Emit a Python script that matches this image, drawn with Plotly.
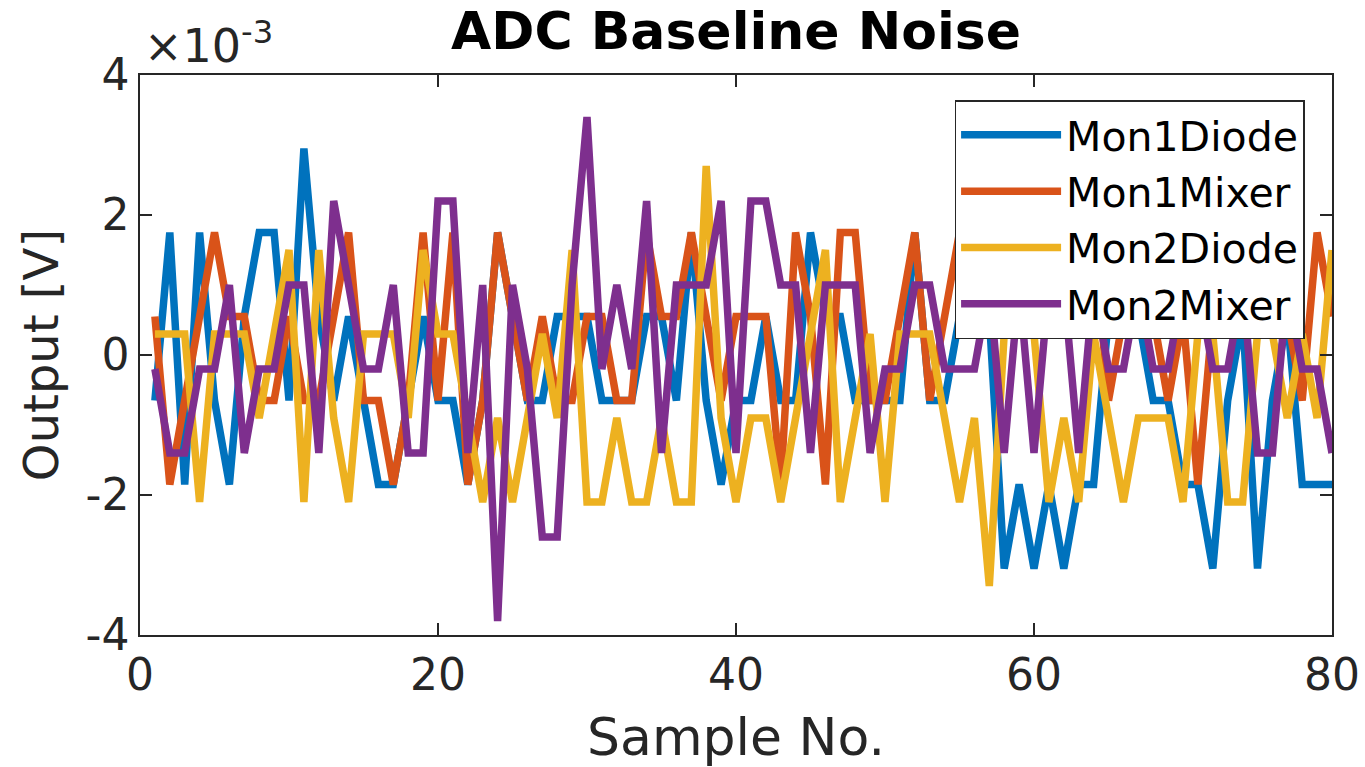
import plotly.graph_objects as go

# Sample index
samples = list(range(1, 81))

# Values in units of 1e-3 V (axis shows x10^-3)
mon1_diode = [-0.65, 1.75, -1.85, 1.75, -0.65, -1.85, 0.55, 1.75, 1.75, -0.65,
              2.95, 0.55, -0.65, 0.55, -0.65, -1.85, -1.85, -0.65, 0.55, -0.65,
              -0.65, -1.85, -0.65, 1.75, 0.55, -0.65, -0.65, 0.55, 0.55, 0.55,
              -0.65, -0.65, -0.65, 0.55, 0.55, -0.65, 1.75, -0.65, -1.85, -0.65,
              -0.65, 0.55, -0.65, -0.65, 1.75, 0.55, 0.55, -0.65, -0.65, -0.65,
              -0.65, 1.75, -0.65, -0.65, 0.55, 0.55, 0.55, -3.05, -1.85, -3.05,
              -1.85, -3.05, -1.85, -1.85, 0.55, 0.55, 0.55, -0.65, -0.65, -1.85,
              -1.85, -3.05, -0.65, 0.55, -3.05, -0.65, 0.55, -1.85, -1.85, -1.85]

mon1_mixer = [0.55, -1.85, -0.65, 0.55, 1.75, 0.55, 0.55, -0.65, -0.65, 0.55,
              -0.65, -0.65, 0.55, 1.75, -0.65, -0.65, -1.85, -0.65, 1.75, -0.65,
              1.75, -1.85, -0.65, 1.75, 0.55, -0.65, 0.55, -0.65, -0.65, 0.55,
              0.55, -0.65, -0.65, 1.75, 0.55, 0.55, 1.75, 0.55, -0.65, 0.55,
              0.55, 0.55, -1.85, 1.75, 0.55, -1.85, 1.75, 1.75, -0.65, -0.65,
              0.55, 1.75, -0.65, 0.55, 1.75, 0.55, 0.55, 1.75, 0.55, 0.55,
              1.75, 0.55, 0.55, 1.75, -0.65, 0.55, 1.75, 0.55, -0.65, 0.55,
              -1.85, 0.55, 1.75, 0.55, 0.55, 1.75, 0.55, -0.65, 1.75, 0.55]

mon2_diode = [0.3, 0.3, 0.3, -2.1, 0.3, 0.3, 0.3, -0.9, 0.3, 1.5,
              -2.1, 1.5, -0.9, -2.1, 0.3, 0.3, 0.3, -0.9, 1.5, 0.3,
              0.3, -0.9, -2.1, -0.9, -2.1, -0.9, 0.3, -0.9, 1.5, -2.1,
              -2.1, -0.9, -2.1, -2.1, -0.9, -2.1, -2.1, 2.7, -0.9, -2.1,
              -0.9, -0.9, -2.1, -0.9, 0.3, 1.5, -2.1, -0.9, 0.3, -2.1,
              0.3, 0.3, 0.3, -0.9, -2.1, -0.9, -3.3, 0.3, 0.3, 0.3,
              -2.1, -0.9, -2.1, 0.3, -0.9, -2.1, -0.9, -0.9, -0.9, -2.1,
              0.3, 0.3, -2.1, -2.1, 0.3, 0.3, -0.9, 0.3, -0.9, 1.5]

mon2_mixer = [-0.2, -1.4, -1.4, -0.2, -0.2, 1.0, -1.4, -0.2, -0.2, 1.0,
              1.0, -1.4, 2.2, 1.0, -0.2, -0.2, 1.0, -1.4, -1.4, 2.2,
              2.2, -1.4, 1.0, -3.8, 1.0, -0.2, -2.6, -2.6, 1.0, 3.4,
              -0.2, 1.0, -0.2, 2.2, -1.4, 1.0, 1.0, 1.0, 2.2, -1.4,
              2.2, 2.2, 1.0, 1.0, -1.4, 1.0, 1.0, 1.0, -1.4, -0.2,
              -0.2, 1.0, 1.0, -0.2, -0.2, -0.2, 1.0, -1.4, 1.0, -1.4,
              1.0, 1.0, -1.4, 1.0, -0.2, -0.2, 1.0, -0.2, -0.2, 1.0,
              1.0, -0.2, -0.2, 1.0, -1.4, -1.4, 1.0, -0.2, -0.2, -1.4]

series_names = ["Mon1Diode", "Mon1Mixer", "Mon2Diode", "Mon2Mixer"]
series_colors = ["#0072BD", "#D95319", "#EDB120", "#7E2F8E"]

x_ticks = [0, 20, 40, 60, 80]
y_ticks = [-4, -2, 0, 2, 4]
y_tick_labels = ["-4", "-2", "0", "2", "4"]

FONT = "DejaVu Sans"
INK = "#262626"

fig = go.Figure()
for name, color, vals in zip(series_names, series_colors,
                             [mon1_diode, mon1_mixer, mon2_diode, mon2_mixer]):
    fig.add_trace(go.Scatter(x=samples, y=vals, mode="lines", name=name,
                             line=dict(color=color, width=7.5)))

axis_common = dict(showline=True, linecolor=INK, linewidth=1.5, mirror="ticks",
                   ticks="inside", ticklen=12, tickwidth=1.5, tickcolor=INK,
                   showgrid=False, zeroline=False,
                   tickfont=dict(family=FONT, size=44, color=INK))

fig.update_layout(
    width=1365, height=767,
    margin=dict(l=140, r=33, t=75, b=132, autoexpand=False),
    paper_bgcolor="white", plot_bgcolor="white",
    font=dict(family=FONT, color=INK),
    title=dict(text="<b>ADC Baseline Noise</b>", x=0.5, xref="paper",
               y=1 - 31 / 767, yref="container", yanchor="middle", xanchor="center",
               font=dict(family=FONT, size=52, color="black")),
    xaxis=dict(range=[0, 80], tickvals=x_ticks,
               title=dict(text="Sample No.", font=dict(family=FONT, size=52, color=INK),
                          standoff=20),
               **axis_common),
    yaxis=dict(range=[-4, 4], tickvals=y_ticks, ticktext=y_tick_labels,
               title=dict(text="Output [V]", font=dict(family=FONT, size=48, color=INK),
                          standoff=12),
               **axis_common),
    legend=dict(x=0.977, y=0.955, xanchor="right", yanchor="top",
                bgcolor="white", bordercolor=INK, borderwidth=1.5,
                font=dict(family=FONT, size=41, color="black"),
                itemwidth=100, tracegroupgap=0),
    showlegend=True,
)

fig.add_annotation(text="×10<sup>-3</sup>", xref="paper", yref="paper",
                   x=0.0, y=1.0, xanchor="left", yanchor="bottom", showarrow=False,
                   xshift=2, yshift=0,
                   font=dict(family=FONT, size=46, color=INK))

fig.write_html("out.html")
